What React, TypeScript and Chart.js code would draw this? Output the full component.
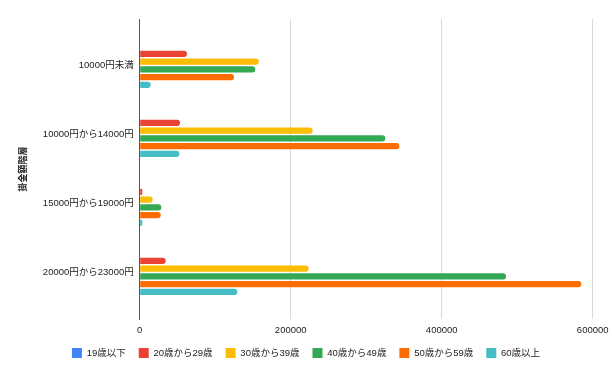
import React, { useEffect, useRef } from "react";
import { Chart, registerables } from "chart.js";

Chart.register(...registerables);

const categories = ["10000円未満", "10000円から14000円", "15000円から19000円", "20000円から23000円"];
const seriesNames = ["19歳以下", "20歳から29歳", "30歳から39歳", "40歳から49歳", "50歳から59歳", "60歳以上"];
const age19Under = [0, 0, 0, 0];
const age20s = [62600, 53400, 3500, 34400];
const age30s = [157600, 229100, 17200, 223800];
const age40s = [153100, 325300, 28600, 485200];
const age50s = [124900, 343900, 27800, 584900];
const age60Over = [14500, 52500, 3500, 129300];
const xTicks = [0, 200000, 400000, 600000];
const yTitle = "掛金額階層";

const colors = ["#4285F4", "#EA4335", "#FBBC04", "#34A853", "#FF6D01", "#46BDC6"];
const FONT = "'Liberation Sans', Arial, 'Noto Sans CJK JP', sans-serif";
const PLOT_BOTTOM = 319;
const BOTTOM_PAD = 10;

export default function App() {
  const ref = useRef<HTMLCanvasElement | null>(null);
  useEffect(() => {
    if (!ref.current) return;
    const values = [age19Under, age20s, age30s, age40s, age50s, age60Over];
    const chart = new Chart(ref.current, {
      type: "bar",
      data: {
        labels: categories,
        datasets: values.map((d, i) => ({
          label: seriesNames[i],
          data: d,
          backgroundColor: colors[i],
          borderWidth: 0,
          borderRadius: 3,
          borderSkipped: "start",
          categoryPercentage: 0.674,
          barPercentage: 0.78,
        })),
      },
      options: {
        indexAxis: "y",
        animation: false,
        responsive: false,
        maintainAspectRatio: false,
        layout: { padding: { left: 0, right: 0, top: 19, bottom: BOTTOM_PAD } },
        plugins: {
          legend: {
            position: "bottom",
            labels: {
              boxWidth: 10,
              boxHeight: 10,
              padding: 13,
              color: "#222",
              font: { family: FONT, size: 9.5 },
            },
          },
          tooltip: { enabled: false },
        },
        scales: {
          x: {
            min: 0,
            max: 600000,
            afterBuildTicks: (scale: any) => {
              scale.ticks = xTicks.map((v) => ({ value: v }));
            },
            afterFit: (scale: any) => {
              const lg: any = (scale.chart as any).legend;
              const lh = lg && lg.height ? lg.height : 0;
              scale.height = 378 - PLOT_BOTTOM - BOTTOM_PAD - lh;
              scale.paddingLeft = 0;
              scale.paddingRight = 0;
            },
            grid: { color: "#d9d9d9", drawTicks: false },
            border: { display: false },
            ticks: {
              padding: 6,
              color: "#222",
              font: { family: FONT, size: 9.5 },
              callback: (v: any) => String(v),
            },
          },
          y: {
            afterFit: (scale: any) => {
              scale.width = 139.7;
            },
            afterBuildTicks: (scale: any) => {
              const band = 69;
              const pad = 12;
              const len = 300;
              scale._valueRange = len / band;
              scale._startValue = -0.5 - pad / band;
            },
            grid: { display: false, drawTicks: false },
            border: { display: true, color: "#555", width: 1 },
            title: {
              display: true,
              text: yTitle,
              color: "#222",
              font: { family: FONT, size: 9, weight: "bold" },
              padding: { top: 18, bottom: 0 },
            },
            ticks: {
              padding: 6,
              color: "#222",
              font: { family: FONT, size: 9.5 },
            },
          },
          yRight: {
            type: "category",
            position: "right",
            afterFit: (scale: any) => {
              scale.width = 19.3;
            },
            grid: { display: false, drawTicks: false },
            border: { display: false },
            ticks: { display: false },
          },
        },
      },
    });
    return () => chart.destroy();
  }, []);
  return (
    <div style={{ position: "fixed", left: 0, top: 0, width: 612, height: 378, background: "#fff" }}>
      <canvas ref={ref} width={612} height={378} style={{ display: "block", width: 612, height: 378 }} />
    </div>
  );
}
